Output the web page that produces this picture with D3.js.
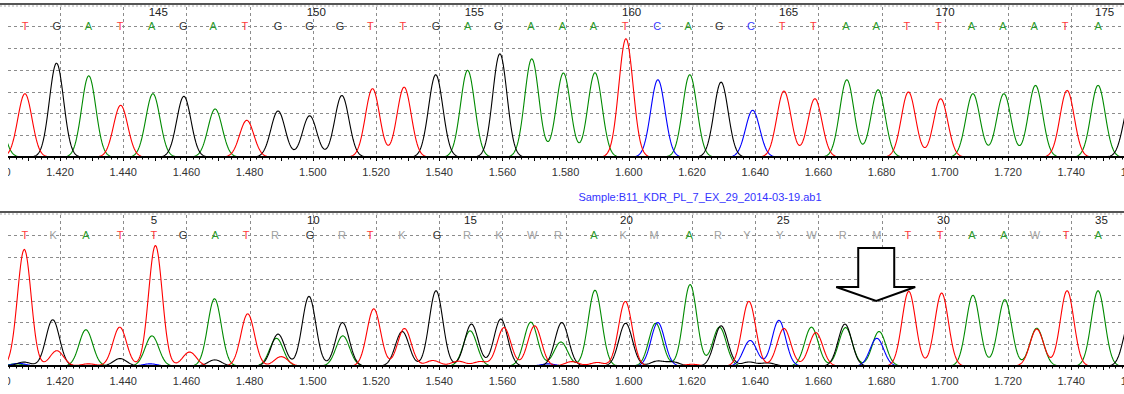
<!DOCTYPE html>
<html><head><meta charset="utf-8">
<script src="https://cdn.jsdelivr.net/npm/d3@7"></script>
<style>
body{margin:0;background:#fff}
svg{display:block}
text{font-family:"Liberation Sans",Arial,sans-serif}
</style>
</head><body>
<svg id="c" width="1124" height="394"></svg>
<script>
// ---------------- DATA ----------------
const scanTicks = d3.range(1400, 1761, 20);
const sampleName = "Sample:B11_KDR_PL_7_EX_29_2014-03-19.ab1";

// top panel (reference) base calls
const topFirstBase = 141;
const topBases = "TGATAGATGGGTTGAGAAATCAGCTTAATTAAATA".split("");
const topCallScans = [1409,1419,1429,1439,1449,1459,1468.5,1478.5,1489,1499,1508.6,1518.2,1528.5,1539,1549,1558.7,1569,1579,1588.8,1598.8,1609,1618.8,1628.6,1638.7,1648.5,1658.4,1668.7,1678.3,1688,1698,1708.4,1718.4,1728.3,1738.1,1748.5];
// top panel peaks [scan, height]
const topA = [[1400,200],[1429.1,372],[1449.4,290],[1469.1,220],[1549,397],[1569.3,450],[1579.3,385],[1589.3,386],[1619.3,377],[1669,354],[1678.9,308],[1708.9,290],[1718.7,290],[1728.7,328],[1748.5,328]];
const topC = [[1609.2,354],[1639.2,214]];
const topG = [[1418.9,430],[1459.2,278],[1489,211],[1499,189],[1509.2,282],[1538.9,377],[1559.2,473],[1629.2,343],[1758.8,260]];
const topT = [[1408.9,290],[1439.2,237],[1479.1,168],[1518.9,313],[1528.9,320],[1599.1,542],[1649.1,302],[1658.9,267],[1688.5,298],[1698.7,267],[1738.7,305]];

// bottom panel (sample) base calls
const botFirstBase = 1;
const botBases = "TKATTGATRGRTKGRKWRAKMARYYWRMTTAAWTA".split("");
const botCallScans = [1408.9,1417.8,1428.2,1439,1449.7,1458.9,1469.1,1478.9,1488,1499.1,1509.2,1518.1,1528.2,1539.3,1548.8,1558.9,1569.4,1577.6,1589,1598.2,1608,1619.1,1628.2,1637.4,1647.8,1657.9,1667.7,1678.5,1688.3,1698.5,1708.6,1718.7,1728.5,1738.4,1748.5];
const botA = [[1406,10],[1428.2,166],[1449.1,138],[1468.9,308],[1488.5,127],[1509.5,138],[1549.8,161],[1569,201],[1578.5,110],[1589.3,347],[1608.5,196],[1619.4,373],[1628.7,178],[1657.8,178],[1668.6,176],[1679.2,158],[1708.9,324],[1719,304],[1729.1,173],[1748.5,345]];
const botC = [[1407,12],[1448.5,10],[1574.5,10],[1609.2,199],[1638.4,117],[1647.5,209],[1678.5,127]];
const botG = [[1408.5,18],[1417.7,212],[1439,34],[1469,28],[1489,146],[1498.8,319],[1509.4,199],[1528.3,158],[1539,345],[1550.2,192],[1559.5,215],[1578.8,199],[1599,196],[1609,22],[1614,18],[1629.2,184],[1638,18],[1644,14],[1668.4,192],[1758.8,220]];
const botT = [[1408.7,534],[1419,70],[1429,10],[1438.9,178],[1450.2,552],[1461,64],[1479.4,239],[1490,43],[1519.3,262],[1529,172],[1538,25],[1546,22],[1553,20],[1560.5,176],[1570.2,184],[1582,20],[1590,16],[1598.9,296],[1620,8],[1638,296],[1649.1,172],[1659.2,153],[1688.6,342],[1699,334],[1729.1,169],[1738.7,345]];

// ---------------- DRAW ----------------
const W = 1124, H = 394;
const svg = d3.select("#c");
const x = d3.scaleLinear().domain([1420, 1740]).range([60, 60 + 63.2 * 16]);
const traceColor = {A:"#008a00", C:"#0000ff", G:"#000000", T:"#ff0000"};
const letterColor = {A:"#2a9a2a", C:"#3a3aff", G:"#333333", T:"#ff3a3a"};

svg.append("defs").append("clipPath").attr("id","plotclip")
  .append("rect").attr("x",8).attr("y",0).attr("width",W-8).attr("height",H);

function panel(cfg) {
  const g = svg.append("g");
  const y = d3.scaleLinear().domain([0, 600]).range([cfg.base, cfg.letterY]);
  // top border
  g.append("line").attr("x1",0).attr("x2",W).attr("y1",cfg.top).attr("y2",cfg.top)
    .attr("stroke","#555").attr("stroke-width",2);
  g.append("line").attr("x1",0).attr("x2",W).attr("y1",cfg.top+2).attr("y2",cfg.top+2)
    .attr("stroke","#aaa").attr("stroke-width",1).attr("stroke-dasharray","2,2");
  // horizontal dashed grid (including letter line)
  g.selectAll(".hg").data(d3.range(100, 601, 100)).join("line")
    .attr("x1",8).attr("x2",W).attr("y1",d=>Math.round(y(d))+0.5).attr("y2",d=>Math.round(y(d))+0.5)
    .attr("stroke","#8c8c8c").attr("stroke-width",1).attr("stroke-dasharray","3,3");
  // vertical dashed grid
  g.selectAll(".vg").data(scanTicks).join("line")
    .attr("x1",d=>Math.round(x(d))+0.5).attr("x2",d=>Math.round(x(d))+0.5)
    .attr("y1",cfg.top+3).attr("y2",cfg.base)
    .attr("stroke","#8c8c8c").attr("stroke-width",1).attr("stroke-dasharray","3,3");
  // traces
  const sigma = cfg.sigma;
  const samples = d3.range(1392, 1768, 0.25);
  const line = d3.line().x(d=>x(d[0])).y(d=>y(d[1]));
  const tg = g.append("g").attr("clip-path","url(#plotclip)");
  ["A","C","G","T"].forEach(ch=>{
    const peaks = cfg.peaks[ch];
    const pts = samples.map(s=>[s, d3.sum(peaks, p=>p[1]*Math.exp(-((s-p[0])**2)/(2*sigma*sigma)))]);
    tg.append("path").attr("d", line(pts)).attr("fill","none")
      .attr("stroke", traceColor[ch]).attr("stroke-width",1.1).attr("stroke-linejoin","round");
  });
  // base letters
  g.selectAll(".bl").data(cfg.bases).join("text")
    .attr("x",(d,i)=>x(cfg.calls[i])).attr("y",cfg.letterY+4)
    .attr("text-anchor","middle").attr("font-size","11px")
    .attr("fill",d=>letterColor[d] || "#a0a0a0")
    .text(d=>d);
  // base numbers every 5
  const nums = cfg.bases.map((d,i)=>({i, n: cfg.first + i})).filter(d=>d.n % 5 === 0);
  g.selectAll(".bn").data(nums).join("text")
    .attr("x",d=>x(cfg.calls[d.i]) - 3).attr("y",cfg.top+12)
    .attr("font-size","11.5px").attr("fill","#222")
    .text(d=>d.n);
  // baseline axis
  g.append("line").attr("x1",8).attr("x2",W).attr("y1",cfg.base).attr("y2",cfg.base)
    .attr("stroke","#000").attr("stroke-width",2);
  const ag = g.append("g").attr("clip-path","url(#plotclip)");
  ag.selectAll(".tk").data(d3.range(1400, 1762, 2)).join("line")
    .attr("x1",d=>Math.round(x(d))+0.5).attr("x2",d=>Math.round(x(d))+0.5)
    .attr("y1",cfg.base).attr("y2",d=>cfg.base + (d % 10 === 0 ? 4 : 2.5))
    .attr("stroke","#000").attr("stroke-width",1);
  ag.selectAll(".tl").data(scanTicks).join("text")
    .attr("x",d=>x(d)).attr("y",cfg.base+19)
    .attr("text-anchor","middle").attr("font-size","11px").attr("fill","#333")
    .text(d=>(d/1000).toFixed(3));
  return {g, y};
}

const topP = panel({top:4, letterY:26, base:157, sigma:2.25, bases:topBases, calls:topCallScans, first:topFirstBase,
  peaks:{A:topA, C:topC, G:topG, T:topT}});
const botP = panel({top:212, letterY:235, base:366, sigma:2.15, bases:botBases, calls:botCallScans, first:botFirstBase,
  peaks:{A:botA, C:botC, G:botG, T:botT}});

// sample name
svg.append("text").attr("x",700).attr("y",201).attr("text-anchor","middle")
  .attr("font-size","11px").attr("fill","#3333ff").text(sampleName);

// arrow annotation pointing to the mutated position
const ax = x(1678.3);
const arrowPts = [
  [ax-18, 248],[ax+18, 248],[ax+18, 287],[ax+39, 287],[ax, 301],[ax-40, 287],[ax-18, 287]
];
svg.append("polygon").attr("points", arrowPts.map(p=>p.join(",")).join(" "))
  .attr("fill","#fff").attr("stroke","#000").attr("stroke-width",2).attr("stroke-linejoin","miter");
</script>
</body></html>
